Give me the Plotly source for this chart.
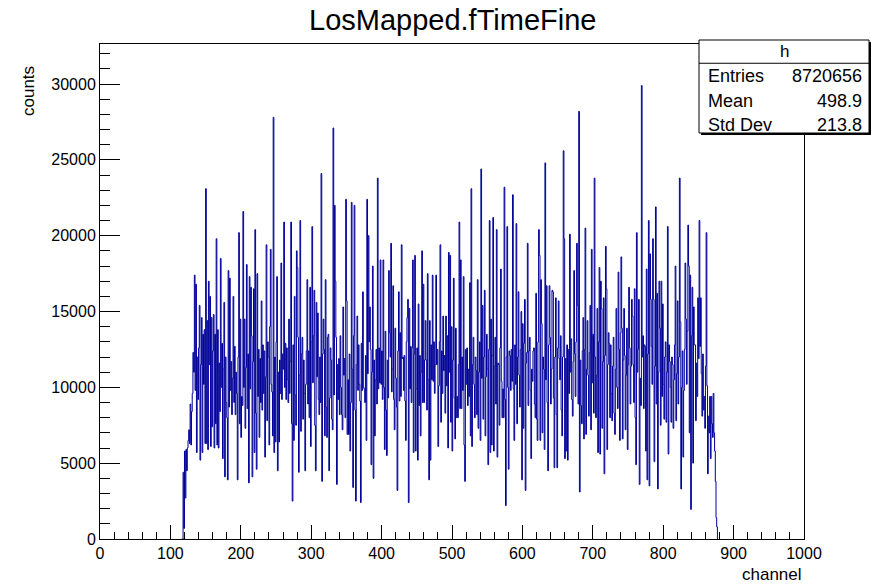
import plotly.graph_objects as go

# ---------------- data ----------------
first_channel = 116  # channel of the first value below (bin width = 1 channel)
counts = [
    # 116-179
    0, 0, 4400, 700, 5800, 2700, 5900, 4500, 6000, 6500, 7200, 6300, 8900, 6200, 8400, 9600,
    12300, 11000, 17400, 9800, 16800, 5700, 12000, 9200, 12600, 15400, 5200, 11500, 14600, 5700,
    13500, 10200, 13800, 6300, 23100, 6300, 14400, 5900, 17000, 11500, 16000, 6100, 14600, 7400,
    12400, 14800, 6000, 13500, 7600, 19800, 6200, 13800, 6000, 11600, 8400, 18500, 10000, 12900,
    5300, 11200, 15600, 4100, 12000, 9000,
    # 180-245
    8000, 3900, 17700, 8700, 17200, 9800, 11700, 8200, 10600, 16000, 9000, 12700, 8200, 11000,
    9600, 3900, 12000, 20200, 7600, 14500, 6700, 9400, 8800, 21600, 10000, 14500, 7300, 11300,
    18100, 8600, 12200, 3700, 17300, 9900, 16600, 13400, 4100, 11700, 16500, 5700, 20400, 8300,
    4600, 17500, 9400, 12500, 6700, 11900, 9000, 15700, 8500, 12800, 9600, 12400, 5400, 10700,
    19400, 7800, 13000, 12000, 6200, 14000, 19100, 10200, 9700, 6800,
    # 246-310
    27800, 5700, 12000, 6400, 13000, 17300, 4500, 11000, 6400, 11800, 9600, 18200, 9200, 12200,
    11200, 20900, 10000, 12900, 9200, 12600, 10500, 9000, 14500, 9600, 11700, 20900, 7600, 2500,
    12800, 6500, 16000, 9500, 7500, 19000, 17900, 13300, 4400, 10800, 21000, 7100, 12200, 13300,
    7900, 11800, 9600, 4500, 10200, 12400, 17100, 8900, 12400, 8000, 16600, 6100, 13000, 20600,
    10300, 13400, 16400, 7500, 4500, 15600, 10700, 14900, 9200,
    # 311-375
    8200, 12000, 9000, 24100, 3800, 12200, 14500, 12500, 6800, 17100, 8700, 6700, 13300, 13500,
    4500, 9300, 12600, 11800, 7900, 7200, 27100, 9500, 22000, 17000, 13300, 3600, 11500, 9200,
    11900, 8200, 13400, 10000, 8200, 7200, 15300, 10800, 11900, 8000, 22400, 15700, 6900, 10500,
    6900, 12200, 5800, 9000, 22200, 11200, 3400, 13400, 22000, 8500, 2500, 11500, 14700, 9800,
    12800, 10200, 9100, 2400, 12900, 9800, 16300, 10000, 9900,
    # 376-441
    9000, 12100, 6500, 22400, 10900, 20000, 13000, 15300, 12500, 4900, 11000, 18000, 4000, 11800,
    6800, 10500, 12500, 8900, 23800, 9900, 12600, 10300, 18400, 10200, 12400, 9200, 18400, 10000,
    5900, 13700, 8500, 5500, 11800, 9300, 17700, 13600, 12000, 19500, 9700, 11200, 16700, 9200,
    7200, 13900, 10600, 8700, 3200, 12400, 16300, 9100, 13600, 9400, 19400, 11900, 12000, 9800,
    12100, 9100, 6500, 13000, 14600, 15800, 2400, 15200, 9900, 12700,
    # 442-506
    9000, 12600, 18400, 5700, 12200, 18700, 5800, 9900, 12600, 5200, 15500, 8800, 12100, 6800,
    11000, 19000, 9000, 16800, 9000, 11800, 14400, 11800, 8500, 17500, 10500, 3900, 14400, 5200,
    12800, 10500, 17400, 10400, 13000, 9600, 11500, 17400, 11500, 12500, 6100, 10100, 13000, 19400,
    7700, 12400, 9600, 14700, 11100, 12100, 8300, 14700, 10100, 13400, 6000, 18900, 11000, 18700,
    7700, 14000, 5800, 11800, 17200, 9300, 6600, 13900, 8000,
    # 507-571
    9400, 8000, 11500, 20900, 8600, 18400, 8600, 12000, 9800, 17300, 6200, 3800, 12500, 10200,
    12600, 8800, 11200, 9400, 16900, 6800, 23100, 6100, 11500, 13300, 10200, 8000, 12000, 11100,
    8200, 17100, 7300, 11000, 13000, 6500, 24400, 10600, 15400, 7900, 12000, 16400, 6800, 10700,
    13500, 11200, 4900, 12500, 21000, 5700, 14500, 6200, 12100, 21200, 5800, 11400, 13300, 8900,
    20400, 5400, 11600, 11500, 7500, 12600, 17800, 10400, 8000,
    # 572-637
    9900, 8000, 23200, 9200, 2200, 12000, 20600, 10000, 4600, 12400, 12100, 9800, 12500, 10400,
    22700, 9900, 6500, 12800, 10200, 20800, 7600, 12000, 16300, 10800, 8700, 12500, 15000, 3900,
    14200, 7300, 12900, 15800, 3200, 11600, 12300, 19500, 8800, 12400, 13300, 9800, 5300, 11200,
    10400, 12400, 12600, 8900, 8000, 16200, 7900, 6500, 13000, 20400, 18700, 6500, 17100, 14200,
    7000, 12000, 11200, 5900, 24800, 10500, 16700, 9000, 4500, 12800,
    # 638-702
    16700, 13300, 8900, 11200, 16400, 16300, 9300, 4700, 12000, 15900, 8200, 4700, 12600, 15700,
    11900, 10500, 13400, 8500, 6800, 12000, 25600, 19800, 5300, 11900, 5800, 12800, 5200, 12500,
    9600, 20100, 11000, 13200, 9200, 8100, 11700, 17700, 12200, 9400, 13000, 19500, 15400, 8900,
    28200, 3100, 11800, 8800, 7600, 12400, 14600, 6600, 12500, 20500, 6900, 11200, 14400, 10800,
    8100, 12300, 15400, 7200, 19100, 10300, 13500, 8300, 23800,
    # 703-769
    12000, 8000, 10800, 15200, 5700, 13000, 17900, 5600, 17000, 15200, 7300, 11700, 15900, 4300,
    12100, 19300, 16500, 5900, 11500, 13600, 12900, 8000, 12800, 9600, 7800, 11400, 13300, 8300,
    6900, 11200, 15200, 10000, 8600, 17600, 12500, 6500, 13600, 18600, 13900, 6600, 11800, 15200,
    12100, 7200, 10800, 13900, 5900, 11500, 16600, 12600, 8900, 11400, 15800, 14700, 11500, 9000,
    16500, 8000, 4900, 20200, 11000, 12500, 15800, 3600, 10600, 8800, 29900,
    # 770-833
    12000, 13400, 8600, 12800, 12700, 5800, 17800, 3900, 12200, 21000, 3500, 18800, 15800, 12700,
    10200, 19800, 15800, 5100, 11400, 21900, 8900, 16200, 3300, 11000, 17000, 13900, 7500, 17000,
    9400, 15500, 10200, 7900, 12000, 13000, 7700, 11000, 20600, 5600, 12800, 11700, 10000, 7700,
    12000, 11500, 7300, 10500, 12800, 18000, 7800, 10900, 15700, 8900, 12000, 23800, 14300, 3300,
    10000, 12400, 5400, 9800, 12500, 18200, 14500, 10200,
    # 834-877
    13700, 20700, 18000, 7000, 17400, 1950, 13400, 16600, 5000, 15300, 12800, 12800, 7800, 11600,
    9400, 15900, 11900, 21000, 12700, 15900, 10900, 8100, 12200, 8500, 9400, 7300, 11400, 20200,
    10100, 4300, 8100, 7000, 9400, 5300, 9400, 7600, 6700, 9600, 7000, 5800, 3800, 1400, 800, 0,
]

title_text = "LosMapped.fTimeFine"
x_title = "channel"
y_title = "counts"
stats_name = "h"
stats_labels = ["Entries", "Mean", "Std Dev"]
stats_values = ["8720656", "498.9", "213.8"]

x_ticks = list(range(0, 1001, 100))
y_ticks = list(range(0, 30001, 5000))

# ---------------- geometry (pixels) ----------------
W, H = 871, 584
L, R, T, B = 100, 804, 44, 539  # frame edges in pixels
Y_MAX = 32640


def px(x):
    return (x - L) / (R - L)


def py(y):
    return (B - y) / (B - T)


edges = [first_channel + i for i in range(len(counts) + 1)]
yvals = counts + [0]

FONT = "Liberation Sans, Arial, sans-serif"
BLUE = "#000099"

fig = go.Figure()
fig.add_trace(go.Scatter(
    x=edges, y=yvals,
    mode="lines", line=dict(color=BLUE, width=1, shape="hv"),
    hoverinfo="skip", showlegend=False,
))

axis_common = dict(
    showgrid=False, zeroline=False, showline=True, linecolor="black", linewidth=1,
    mirror=True, ticks="inside", tickcolor="black", tickwidth=1,
    tickfont=dict(family=FONT, size=16, color="black"),
)

fig.update_layout(
    width=W, height=H, autosize=False,
    margin=dict(l=L, r=W - R, t=T, b=H - B, pad=0),
    paper_bgcolor="white", plot_bgcolor="white",
    xaxis=dict(range=[0, 1000], tickvals=x_ticks, ticktext=[str(v) for v in x_ticks],
               ticklen=14, minor=dict(dtick=20, tick0=0, ticklen=7, ticks="inside",
                                      tickcolor="black", showgrid=False),
               **axis_common),
    yaxis=dict(range=[0, Y_MAX], tickvals=y_ticks, ticktext=[str(v) for v in y_ticks],
               ticklen=20, minor=dict(dtick=1000, tick0=0, ticklen=10, ticks="inside",
                                      tickcolor="black", showgrid=False),
               **axis_common),
    showlegend=False,
    hovermode=False,
)

ann = []
ann.append(dict(text=title_text, x=px(452), y=py(20), xref="paper", yref="paper",
                xanchor="center", yanchor="middle", showarrow=False,
                font=dict(family=FONT, size=29, color="black")))
ann.append(dict(text=x_title, x=px(804), y=py(574), xref="paper", yref="paper",
                xanchor="right", yanchor="middle", showarrow=False,
                font=dict(family=FONT, size=17, color="black")))
ann.append(dict(text=y_title, x=px(28), y=py(64), xref="paper", yref="paper",
                xanchor="center", yanchor="top", textangle=-90, showarrow=False,
                font=dict(family=FONT, size=17, color="black")))

# stats box
SX0, SX1, SY0, SY1 = 699, 869, 40, 133
row_h = (SY1 - SY0) / 4
shapes = [
    dict(type="rect", x0=px(SX0 + 2), x1=px(SX1 + 2), y0=py(SY0 + 2), y1=py(SY1 + 2),
         xref="paper", yref="paper", line=dict(width=0), fillcolor="black"),
    dict(type="rect", x0=px(SX0), x1=px(SX1), y0=py(SY0), y1=py(SY1),
         xref="paper", yref="paper", line=dict(color="black", width=1), fillcolor="white"),
    dict(type="line", x0=px(SX0), x1=px(SX1), y0=py(SY0 + row_h), y1=py(SY0 + row_h),
         xref="paper", yref="paper", line=dict(color="black", width=1)),
]
ann.append(dict(text=stats_name, x=px((SX0 + SX1) / 2), y=py(SY0 + row_h / 2), xref="paper",
                yref="paper", xanchor="center", yanchor="middle", showarrow=False,
                font=dict(family=FONT, size=17, color="black")))
row_y = [76, 101, 125]
for lab, val, yc in zip(stats_labels, stats_values, row_y):
    ann.append(dict(text=lab, x=px(SX0 + 7), y=py(yc), xref="paper", yref="paper",
                    xanchor="left", yanchor="middle", showarrow=False,
                    font=dict(family=FONT, size=18, color="black")))
    ann.append(dict(text=val, x=px(SX1 - 5), y=py(yc), xref="paper", yref="paper",
                    xanchor="right", yanchor="middle", showarrow=False,
                    font=dict(family=FONT, size=18, color="black")))

fig.update_layout(annotations=ann, shapes=shapes)
fig.write_html("out.html", config={"displayModeBar": False},
               post_script="document.body.style.margin='0';"
               "document.body.style.overflow='hidden';")
